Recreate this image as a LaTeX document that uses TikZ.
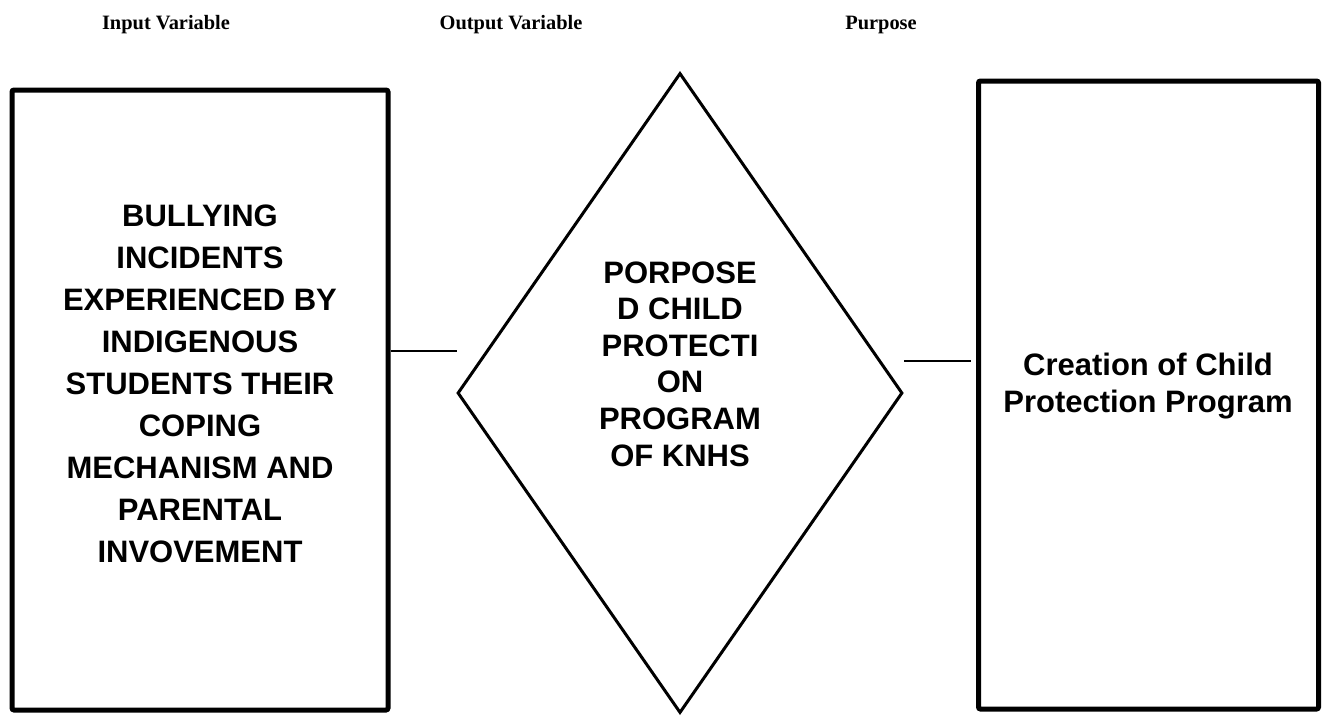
\documentclass[tikz,border=0pt]{standalone}
\usepackage{fontspec}
\setmainfont{Liberation Serif}
\newfontfamily\arialfont{Liberation Sans}
\usetikzlibrary{positioning,shapes.geometric,calc}

\begin{document}
\begin{tikzpicture}[x=0.5pt,y=-0.5pt,
  hdr/.style={font=\bfseries\fontsize{10.2}{12}\selectfont,inner sep=0pt},
  frame/.style={draw,line width=2.5pt,rounded corners=1pt,inner sep=0pt},
  lab/.style={font=\arialfont\bfseries\fontsize{15.5}{21}\selectfont,align=center,inner sep=0pt},
  link/.style={line width=0.8pt}]
\useasboundingbox (0,0) rectangle (1326,718);
\node[hdr] (hin) at (166,25) {Input Variable};
\node[hdr] (hout) at (511,25) {Output Variable};
\node[hdr] (hpur) at (881,25) {Purpose};

\node[frame,minimum width=188pt,minimum height=310pt] (inbox) at (200,400) {};
\node[draw,diamond,line width=1.5pt,minimum width=222.5pt,minimum height=320pt,inner sep=0pt] (outdia) at (680,393) {};
\node[frame,minimum width=170pt,minimum height=314pt] (purbox) at (1148.5,395) {};

\node[lab] (intext) at (200,384) {BULLYING\\INCIDENTS\\EXPERIENCED BY\\INDIGENOUS\\STUDENTS THEIR\\COPING\\MECHANISM AND\\PARENTAL\\INVOVEMENT};
\node[lab,font=\arialfont\bfseries\fontsize{15.5}{18.3}\selectfont] (outtext) at (680,364) {PORPOSE\\D CHILD\\PROTECTI\\ON\\PROGRAM\\OF KNHS};
\node[lab,font=\arialfont\bfseries\fontsize{15.5}{18.5}\selectfont] (purtext) at (1148,386) {Creation of Child\\Protection Program};

\coordinate (lend) at (457,351);
\coordinate (rend) at (971,361);
\draw[link] (inbox.east |- lend) -- (lend);
\draw[link] (outdia.east |- rend) -- (rend);
\end{tikzpicture}
\end{document}
